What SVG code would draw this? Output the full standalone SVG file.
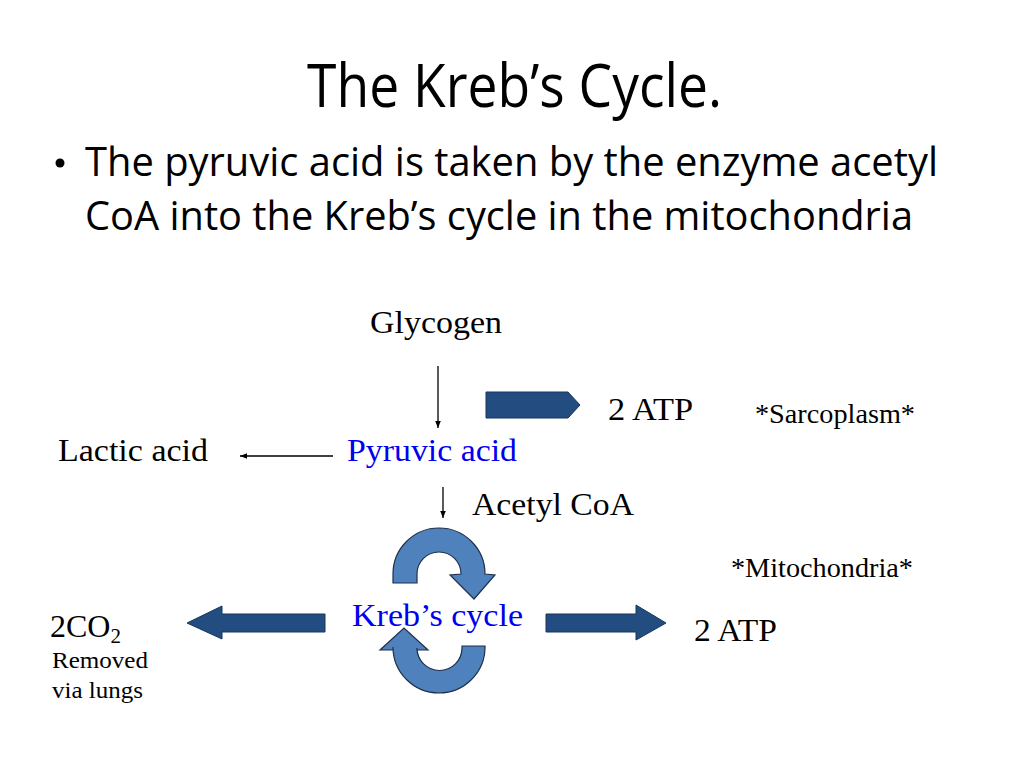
<svg xmlns="http://www.w3.org/2000/svg" width="1024" height="768" viewBox="0 0 1024 768">
<defs>
<style>
.t{font-family:"Liberation Serif","Times New Roman",serif;fill:#000}
.b{fill:#0000ee}
.h{font-family:"Open Sans","Liberation Sans",sans-serif;fill:#000}
.blk{fill:#234c80;stroke:#17365d;stroke-width:1}
.cur{fill:#4f81bd;stroke:#1f2f4a;stroke-width:1.2}
.ln{stroke:#000;stroke-width:1.3;fill:none}
</style>
<marker id="ah" viewBox="0 0 10 10" refX="10" refY="5" markerWidth="7" markerHeight="7" markerUnits="userSpaceOnUse" orient="auto">
<path d="M0,1 L10,5 L0,9 Z" fill="#000"/>
</marker>
</defs>
<rect width="1024" height="768" fill="#fff"/>
<g id="title">
<text class="h" x="307" y="107" font-size="61" textLength="415" lengthAdjust="spacingAndGlyphs">The Kreb’s Cycle.</text>
</g>
<g id="bullet">
<circle cx="60" cy="163" r="4.5" fill="#000"/>
<text class="h" x="85" y="176" font-size="40" textLength="853" lengthAdjust="spacingAndGlyphs">The pyruvic acid is taken by the enzyme acetyl</text>
<text class="h" x="85" y="230" font-size="40" textLength="828" lengthAdjust="spacingAndGlyphs">CoA into the Kreb’s cycle in the mitochondria</text>
</g>
<g id="connectors">
<line class="ln" x1="438" y1="366" x2="438" y2="428" marker-end="url(#ah)"/>
<line class="ln" x1="333" y1="456" x2="240" y2="456" marker-end="url(#ah)"/>
<line class="ln" x1="443" y1="487" x2="443" y2="518" marker-end="url(#ah)"/>
<path class="blk" d="M486,392 L568,392 L580,405 L568,418 L486,418 Z"/>
<path class="blk" d="M325,614 L222,614 L222,606 L187,623 L222,639 L222,632 L325,632 Z"/>
<path class="blk" d="M546,614 L636,614 L636,605 L666,623 L636,640 L636,632 L546,632 Z"/>
<path class="cur" d="M393,583 L393,574 A46,46 0 0 1 485,574 L495,575 L474,599 L450,575 L461,574 A22,22 0 0 0 417,574 L417,583 Z"/>
<path class="cur" d="M485,646 L485,647 A46,46 0 0 1 393,647 L393,650 L380,650 L404,628 L428,650 L417,650 L417,648 A22.5,22.5 0 0 0 462,648 L462,646 Z"/>
</g>
<g id="glycogen"><text class="t" x="370" y="333" font-size="32" textLength="132" lengthAdjust="spacingAndGlyphs">Glycogen</text></g>
<g id="atp1"><text class="t" x="608" y="420" font-size="32" textLength="85" lengthAdjust="spacingAndGlyphs">2 ATP</text></g>
<g id="sarcoplasm"><text class="t" x="755" y="423" font-size="27" textLength="160" lengthAdjust="spacingAndGlyphs">*Sarcoplasm*</text></g>
<g id="lactic"><text class="t" x="58" y="461" font-size="32" textLength="150" lengthAdjust="spacingAndGlyphs">Lactic acid</text></g>
<g id="pyruvic"><text class="t b" x="347" y="461" font-size="32" textLength="170" lengthAdjust="spacingAndGlyphs">Pyruvic acid</text></g>
<g id="acetyl"><text class="t" x="472" y="515" font-size="32" textLength="162" lengthAdjust="spacingAndGlyphs">Acetyl CoA</text></g>
<g id="mitochondria"><text class="t" x="731" y="577" font-size="27" textLength="182" lengthAdjust="spacingAndGlyphs">*Mitochondria*</text></g>
<g id="kreb"><text class="t b" x="352" y="626" font-size="32" textLength="171" lengthAdjust="spacingAndGlyphs">Kreb’s cycle</text></g>
<g id="atp2"><text class="t" x="694" y="641" font-size="32" textLength="83" lengthAdjust="spacingAndGlyphs">2 ATP</text></g>
<g id="co2">
<text class="t" x="50" y="637" font-size="32">2CO<tspan font-size="21" dy="6">2</tspan></text>
<text class="t" x="52" y="668" font-size="24" textLength="96" lengthAdjust="spacingAndGlyphs">Removed</text>
<text class="t" x="52" y="698" font-size="24" textLength="91" lengthAdjust="spacingAndGlyphs">via lungs</text>
</g>
</svg>
